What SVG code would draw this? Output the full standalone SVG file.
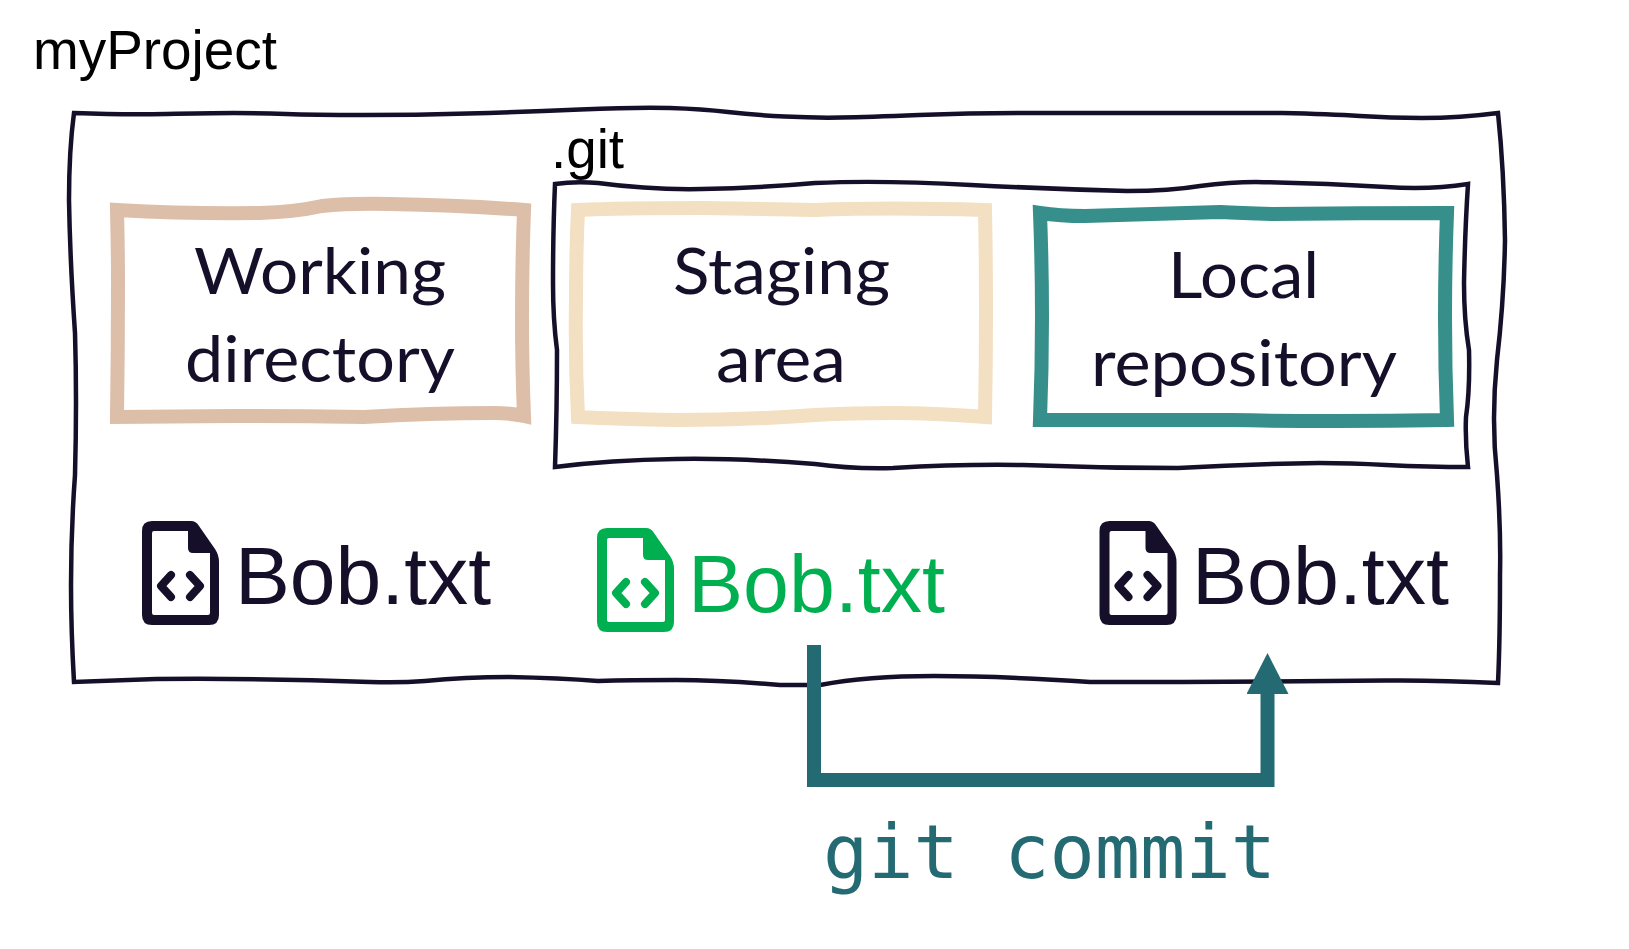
<svg xmlns="http://www.w3.org/2000/svg" xmlns:xlink="http://www.w3.org/1999/xlink" width="1629" height="949" viewBox="0 0 1629 949">
  <style>
    .thin { fill: none; stroke: #160F29; stroke-width: 4.5; stroke-linejoin: miter; }
    .thick { fill: none; stroke-width: 14; stroke-linejoin: miter; }
    .lab { font-family: "Lato", "Liberation Sans", sans-serif; font-size: 64px; fill: #160F29; }
    .sans { font-family: "Liberation Sans", Arial, sans-serif; fill: #000000; }
    .bob { font-size: 82px; fill: #160F29; }
    .cmd { font-family: "DejaVu Sans Mono", "Liberation Mono", monospace; font-size: 75px; fill: #246A73; }
    .conn { fill: none; stroke: #246A73; stroke-width: 14; stroke-linejoin: miter; }
  </style>
  <defs>
    <marker id="head" markerUnits="userSpaceOnUse" markerWidth="41" markerHeight="42" refX="0" refY="21" orient="auto" viewBox="0 0 41 42">
      <path d="M0 0 L41 21 L0 42 Z" fill="#246A73"/>
    </marker>
    <g id="fileIcon">
      <path fill-rule="evenodd" fill="currentColor" d="M152 521 H191 Q196 521 199 526 L215 549 Q219 555 219 562 V615 Q219 625 209 625 H152 Q142 625 142 615 V531 Q142 521 152 521 Z M154 531 Q152 531 152 533 V613 Q152 615 154 615 H208 Q210 615 210 613 V553 H193 Q188 553 188 548 V531 Z"/>
      <path fill="none" stroke="currentColor" stroke-width="8" stroke-linecap="round" stroke-linejoin="round" d="M171 575 L161 586 L171 597 M190 575 L200 586 L190 597"/>
    </g>
  </defs>
  <rect width="1629" height="949" fill="#FFFFFF"/>

  <g id="myProject">
    <path class="thin" d="M74 113 Q125 115 166 114 Q208 113 234 113 Q260 113 286 114 Q312 115 364 115 Q416 115 468 113.5 Q520 112 580 109.5 Q639 107 670 108 Q702 109 728 112 Q754 115 785 116.5 Q815 118 841 117.5 Q867 117 919 115 Q971 113 1023 113 L1282 113 Q1330 114 1360 116 Q1391 118 1422 118 Q1460 118 1498 113 Q1504 170 1505 240 Q1504 300 1497 360 Q1491 420 1497 475 Q1501 530 1500 575 Q1500 640 1498 683 Q1438 680 1386 680.5 Q1240 682 1090 682 Q1000 676 934 676 Q867 676 820 685 L780 685 Q720 680 676 680 Q630 680 598 681 Q560 678 509 677 Q465 677 425 681 Q400 683 370 682 Q260 678 156 679 L74 682 Q71 630 71 585 Q71 530 75 475 Q77 400 75 333 Q70 260 69 200 Q69 150 74 113 Z"/>
    <text class="sans" x="33" y="69" font-size="56" textLength="244" lengthAdjust="spacingAndGlyphs">myProject</text>
  </g>

  <g id="git">
    <path class="thin" d="M555 184 Q575 181 598 183 Q650 190 702 189 Q760 188 815 183 Q880 180 971 185 Q1050 189 1127 191 Q1170 191 1200 186 Q1230 182 1256 182 Q1320 183 1386 187 Q1430 190 1468 184 Q1465 230 1464 283 Q1464 320 1469 350 Q1470 390 1466 417 Q1465 440 1468 467 Q1430 467 1386 465 Q1350 463 1319 463 Q1250 464 1178 468 Q1100 468 1023 465 Q960 464 893 468 Q850 469 815 464 Q740 458 676 459 Q610 460 555 467 Q557 410 557 350 Q553 320 553 283 Q553 230 555 184 Z"/>
    <text class="sans" x="551" y="168" font-size="56" textLength="73" lengthAdjust="spacingAndGlyphs">.git</text>
  </g>

  <g id="working-directory">
    <path class="thick" stroke="#DDBEA9" d="M117 210 Q190 214 260 213 Q295 212 322 206 Q350 203 390 204 Q460 205 524 210 Q520 320 524 416 Q510 413 494 413 Q430 413 364 417 Q300 416 234 416 L117 417 Q118 350 118 283 Q118 250 117 210 Z"/>
    <text class="lab" x="194" y="294" textLength="252" lengthAdjust="spacingAndGlyphs">Working</text>
    <text class="lab" x="185" y="382" textLength="270" lengthAdjust="spacingAndGlyphs">directory</text>
  </g>

  <g id="staging-area">
    <path class="thick" stroke="#F3DFC1" d="M578 210 Q620 208 702 208 Q760 209 815 210 Q890 207 985 210 Q987 310 985 417 Q930 413 893 413 Q850 413 815 415 Q750 420 676 420 Q620 419 578 417 Q575 360 576 300 Q576 250 578 210 Z"/>
    <text class="lab" x="673" y="294" textLength="217" lengthAdjust="spacingAndGlyphs">Staging</text>
    <text class="lab" x="716" y="382" textLength="130" lengthAdjust="spacingAndGlyphs">area</text>
  </g>

  <g id="local-repository">
    <path class="thick" stroke="#368F8B" d="M1040 213 Q1060 216 1085 216 Q1150 214 1220 212 Q1240 213 1272 214 Q1360 213 1447 213 Q1443 317 1447 420 Q1390 421 1334 421 Q1280 421 1230 420 L1040 420 Q1044 317 1040 213 Z"/>
    <text class="lab" x="1168" y="298" textLength="151" lengthAdjust="spacingAndGlyphs">Local</text>
    <text class="lab" x="1091" y="386" textLength="306" lengthAdjust="spacingAndGlyphs">repository</text>
  </g>

  <g id="file-working" color="#160F29">
    <use href="#fileIcon" xlink:href="#fileIcon"/>
    <text class="sans bob" x="235" y="604" textLength="256" lengthAdjust="spacingAndGlyphs">Bob.txt</text>
  </g>

  <g id="file-staging" color="#00B050">
    <use href="#fileIcon" xlink:href="#fileIcon" x="455" y="7"/>
    <text class="sans bob" x="688" y="612" textLength="257" lengthAdjust="spacingAndGlyphs" style="fill:#00B050">Bob.txt</text>
  </g>

  <g id="file-repository" color="#160F29">
    <use href="#fileIcon" xlink:href="#fileIcon" x="957.5"/>
    <text class="sans bob" x="1192" y="604" textLength="257" lengthAdjust="spacingAndGlyphs">Bob.txt</text>
  </g>

  <g id="connectors">
    <path class="conn" d="M814 645 V780 H1267.5 V694" marker-end="url(#head)"/>
  </g>

  <g id="commit-label">
    <text class="cmd" x="823" y="878" textLength="453" lengthAdjust="spacingAndGlyphs">git commit</text>
  </g>
</svg>
